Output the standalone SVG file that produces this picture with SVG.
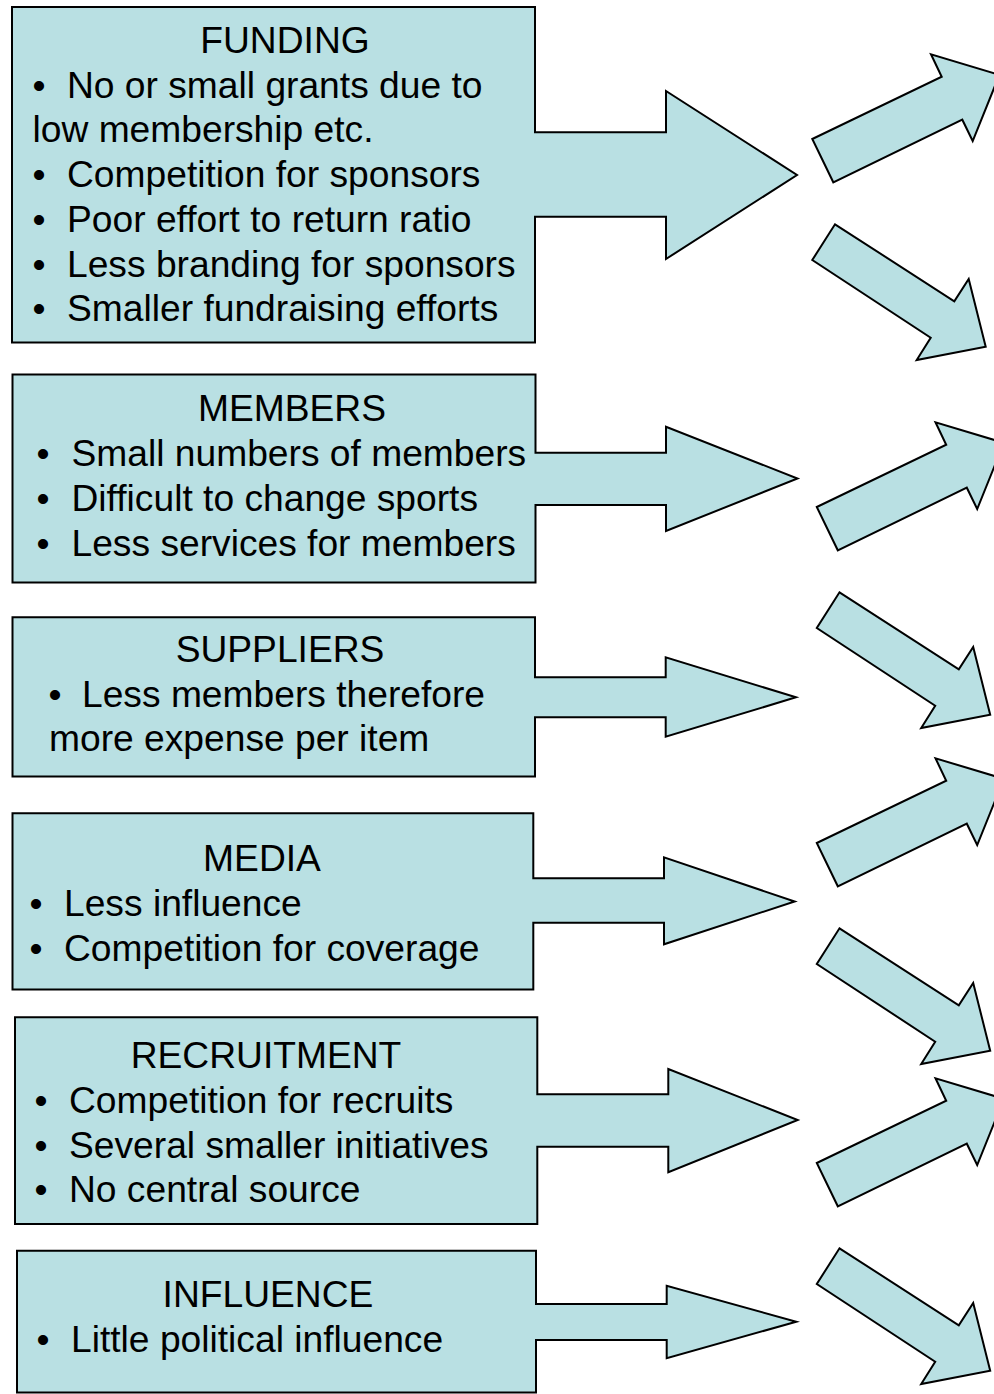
<svg xmlns="http://www.w3.org/2000/svg" xmlns:xlink="http://www.w3.org/1999/xlink" width="994" height="1394" viewBox="0 0 994 1394">
<style>
  .shape { fill: #B9E0E3; stroke: #000; stroke-width: 2; stroke-linejoin: miter; }
  .t { font-family: "Liberation Sans", Arial, sans-serif; font-size: 37.2px; fill: #000; }
  .h { text-anchor: middle; }
  .b { text-anchor: middle; }
</style>
<defs>
  <polygon id="up" class="shape" points="812.3,139 941.7,76.7 931,54.3 999.4,74.9 972.7,141 962.3,119.7 833.3,182.3"/>
  <polygon id="down" class="shape" points="835,224.3 954.3,301.3 968.7,279 985.7,346.7 916.7,360 930.7,337.7 812.3,260"/>
</defs>
<rect width="994" height="1394" fill="#fff"/>

<g id="connectors">
  <use xlink:href="#up"/>
  <use xlink:href="#down"/>
  <use xlink:href="#up" transform="translate(4.5,368)"/>
  <use xlink:href="#down" transform="translate(4.5,368)"/>
  <use xlink:href="#up" transform="translate(4.5,704)"/>
  <use xlink:href="#down" transform="translate(4.5,704)"/>
  <use xlink:href="#up" transform="translate(4.5,1024)"/>
  <use xlink:href="#down" transform="translate(4.5,1024)"/>
</g>

<g id="funding">
  <path class="shape" d="M12,7 H535 V132.3 H666 V91 L797,175 L666,259 V216.7 H535 V342.5 H12 Z"/>
  <text class="t h" x="285" y="53">FUNDING</text>
  <text class="t b" x="39" y="97.7">•</text>
  <text class="t" x="67" y="97.7">No or small grants due to</text>
  <text class="t" x="32.5" y="142.4">low membership etc.</text>
  <text class="t b" x="39" y="187.1">•</text>
  <text class="t" x="67" y="187.1">Competition for sponsors</text>
  <text class="t b" x="39" y="231.8">•</text>
  <text class="t" x="67" y="231.8">Poor effort to return ratio</text>
  <text class="t b" x="39" y="276.5">•</text>
  <text class="t" x="67" y="276.5">Less branding for sponsors</text>
  <text class="t b" x="39" y="321.2">•</text>
  <text class="t" x="67" y="321.2">Smaller fundraising efforts</text>
</g>

<g id="members">
  <path class="shape" d="M12.5,374.5 H535.5 V452.7 H666 V426.7 L797.5,478.5 L666,531 V505 H535.5 V582.5 H12.5 Z"/>
  <text class="t h" x="292" y="421">MEMBERS</text>
  <text class="t b" x="43" y="466">•</text>
  <text class="t" x="71.5" y="466">Small numbers of members</text>
  <text class="t b" x="43" y="511">•</text>
  <text class="t" x="71.5" y="511">Difficult to change sports</text>
  <text class="t b" x="43" y="556">•</text>
  <text class="t" x="71.5" y="556">Less services for members</text>
</g>

<g id="suppliers">
  <path class="shape" d="M12.5,617.3 H535 V677.3 H665.7 V657.3 L796,697.3 L665.7,736.7 V717.3 H535 V776.5 H12.5 Z"/>
  <text class="t h" x="280" y="662">SUPPLIERS</text>
  <text class="t b" x="55" y="707">•</text>
  <text class="t" x="82" y="707">Less members therefore</text>
  <text class="t" x="49" y="751">more expense per item</text>
</g>

<g id="media">
  <path class="shape" d="M12.5,813.3 H533.3 V878.3 H664 V857.3 L794.7,901.5 L664,944.3 V922.7 H533.3 V989.5 H12.5 Z"/>
  <text class="t h" x="262" y="871">MEDIA</text>
  <text class="t b" x="36" y="916">•</text>
  <text class="t" x="64" y="916">Less influence</text>
  <text class="t b" x="36" y="961">•</text>
  <text class="t" x="64" y="961">Competition for coverage</text>
</g>

<g id="recruitment">
  <path class="shape" d="M15,1017.3 H537.3 V1094.3 H668.3 V1069 L797.7,1120 L668.3,1172.3 V1146.7 H537.3 V1224 H15 Z"/>
  <text class="t h" x="266" y="1068">RECRUITMENT</text>
  <text class="t b" x="41" y="1113">•</text>
  <text class="t" x="69" y="1113">Competition for recruits</text>
  <text class="t b" x="41" y="1158">•</text>
  <text class="t" x="69" y="1158">Several smaller initiatives</text>
  <text class="t b" x="41" y="1202">•</text>
  <text class="t" x="69" y="1202">No central source</text>
</g>

<g id="influence">
  <path class="shape" d="M17,1250.7 H536 V1304 H666.7 V1285.7 L796.3,1321.7 L666.7,1358.3 V1340 H536 V1392.5 H17 Z"/>
  <text class="t h" x="268" y="1307">INFLUENCE</text>
  <text class="t b" x="43" y="1352">•</text>
  <text class="t" x="71" y="1352">Little political influence</text>
</g>
</svg>
